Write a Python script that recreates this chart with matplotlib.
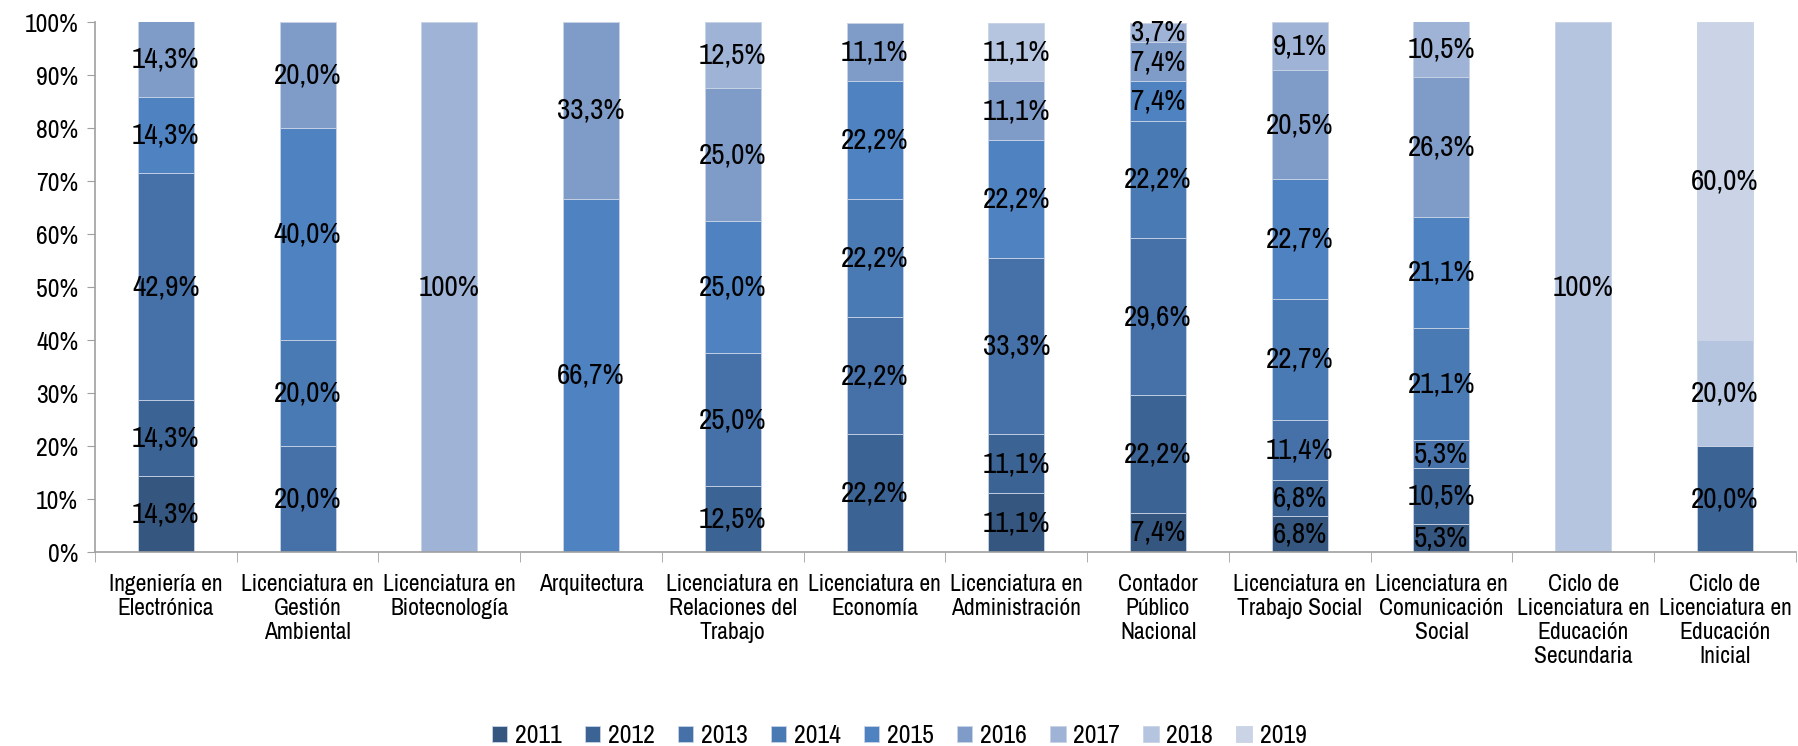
import numpy as np
import matplotlib
matplotlib.use("Agg")
import matplotlib.pyplot as plt

plt.rcParams['font.family'] = ['Archivo Narrow', 'Liberation Sans', 'DejaVu Sans']

# Carreras (eje x)
carreras = [
    "Ingeniería en\nElectrónica",
    "Licenciatura en\nGestión\nAmbiental",
    "Licenciatura en\nBiotecnología",
    "Arquitectura",
    "Licenciatura en\nRelaciones del\nTrabajo",
    "Licenciatura en\nEconomía",
    "Licenciatura en\nAdministración",
    "Contador\nPúblico\nNacional",
    "Licenciatura en\nTrabajo Social",
    "Licenciatura en\nComunicación\nSocial",
    "Ciclo de\nLicenciatura en\nEducación\nSecundaria",
    "Ciclo de\nLicenciatura en\nEducación\nInicial",
]

anios = ["2011", "2012", "2013", "2014", "2015", "2016", "2017", "2018", "2019"]

# porcentaje por año para cada carrera (en el mismo orden que carreras)
p2011 = [14.3, 0, 0, 0, 0, 0, 11.1, 7.4, 6.8, 5.3, 0, 0]
p2012 = [14.3, 0, 0, 0, 12.5, 22.2, 11.1, 22.2, 6.8, 10.5, 0, 20.0]
p2013 = [42.9, 20.0, 0, 0, 25.0, 22.2, 33.3, 29.6, 11.4, 5.3, 0, 0]
p2014 = [0, 20.0, 0, 0, 0, 22.2, 0, 22.2, 22.7, 21.1, 0, 0]
p2015 = [14.3, 40.0, 0, 66.7, 25.0, 22.2, 22.2, 7.4, 22.7, 21.1, 0, 0]
p2016 = [14.3, 20.0, 0, 33.3, 25.0, 11.1, 11.1, 7.4, 20.5, 26.3, 0, 0]
p2017 = [0, 0, 100, 0, 12.5, 0, 0, 3.7, 9.1, 10.5, 0, 0]
p2018 = [0, 0, 0, 0, 0, 0, 11.1, 0, 0, 0, 100, 20.0]
p2019 = [0, 0, 0, 0, 0, 0, 0, 0, 0, 0, 0, 60.0]

series = [p2011, p2012, p2013, p2014, p2015, p2016, p2017, p2018, p2019]
colores = ["#35567f", "#3b6394", "#4571a8", "#4a7ab4", "#4e82c0",
           "#7f9cc8", "#9fb3d6", "#b5c4df", "#cad4e6"]


def etiqueta(v):
    if v >= 99.95:
        return "100%"
    return f"{v:.1f}".replace(".", ",") + "%"


fig = plt.figure(figsize=(17.98, 7.46), dpi=100)
ax = fig.add_axes([0.0528, 0.26, 0.946, 0.7105])

x = np.arange(len(carreras))
base = np.zeros(len(carreras))
ancho = 0.395

for anio, vals, col in zip(anios, series, colores):
    vals = np.array(vals, dtype=float)
    ax.bar(x, vals, ancho, bottom=base, color=col, label=anio,
           edgecolor="#c8d3e6", linewidth=0.6)
    for xi, b, v in zip(x, base, vals):
        if v > 0:
            ax.text(xi, b + v / 2, etiqueta(v), ha="center", va="center",
                    fontsize=21, color="black")
    base += vals

ax.set_xlim(-0.5, len(carreras) - 0.5)
ax.set_ylim(0, 100)
ax.set_yticks(np.arange(0, 101, 10))
ax.set_yticklabels([f"{t}%" for t in range(0, 101, 10)], fontsize=18.5)

ax.set_xticks(x)
ax.set_xticklabels(carreras, fontsize=17, linespacing=1.17, va="top")
ax.tick_params(axis="x", length=0, pad=16)
ax.set_xticks(np.arange(-0.5, len(carreras), 1), minor=True)
ax.tick_params(axis="x", which="minor", length=7, color="#a0a0a0", direction="out")
ax.tick_params(axis="y", length=6, color="#a0a0a0", direction="out", pad=6)

for s in ["top", "right"]:
    ax.spines[s].set_visible(False)
ax.spines["left"].set_color("#a0a0a0")
ax.spines["bottom"].set_color("#a0a0a0")
ax.spines["left"].set_linewidth(1.2)
ax.spines["bottom"].set_linewidth(1.2)

fig.legend(loc="center", bbox_to_anchor=(0.5, 0.014), ncol=9,
           frameon=False, fontsize=18.5, handlelength=0.6, handleheight=0.6,
           handletextpad=0.3, columnspacing=0.9)

fig.savefig("out.png", dpi=100)
